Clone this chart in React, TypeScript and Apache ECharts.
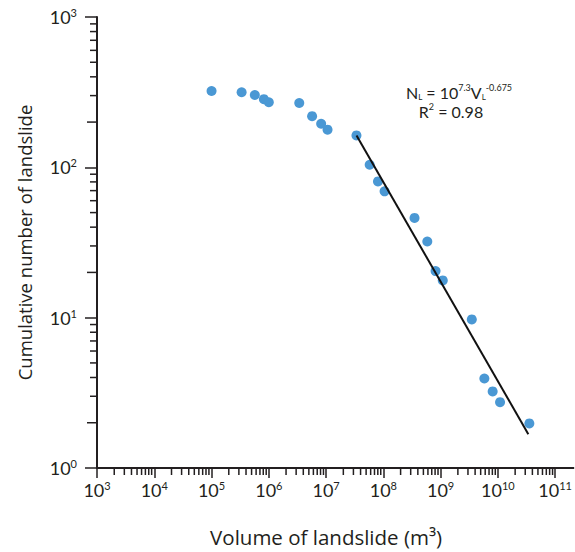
import React, { useEffect, useRef } from "react";
import * as echarts from "echarts";

// Landslide volume (m³) and cumulative number of landslides
const volumes = [
  1.0e5, 3.35e5, 5.7e5, 8.2e5, 1.0e6, 3.4e6, 5.7e6, 8.2e6, 1.06e7, 3.39e7,
  5.77e7, 8.05e7, 1.05e8, 3.5e8, 5.85e8, 8.15e8, 1.09e9, 3.5e9, 5.8e9, 8.1e9,
  1.09e10, 3.54e10,
];
const counts = [
  322, 316, 303, 284, 271, 268, 219, 195, 178, 163, 104, 80.6, 69.2, 46.1, 32.1,
  20.4, 17.7, 9.74, 3.94, 3.23, 2.74, 1.98,
];
// Power-law fit line end points
const fitVolumes = [3.4e7, 3.4e10];
const fitCounts = [163, 1.68];

const xMin = 1e3;
const xMax = 1e11;
const yMin = 1;
const yMax = 1e3;
const xDecades = [3, 4, 5, 6, 7, 8, 9, 10];
const yDecades = [0, 1, 2];
const minorMultipliers = [2, 3, 4, 5, 6, 7, 8, 9];

const FONT = "Lato";
const TITLE_FONT = "Open Sans";
const INK = "#231f20";

export default function App() {
  const ref = useRef<HTMLDivElement>(null);

  useEffect(() => {
    if (!ref.current) return;
    const chart = echarts.init(ref.current, undefined, { renderer: "svg" });

    const minorData: number[][] = [];
    xDecades.forEach((d) =>
      minorMultipliers.forEach((m) => minorData.push([m * Math.pow(10, d), yMin, 0, 7]))
    );
    yDecades.forEach((d) =>
      minorMultipliers.forEach((m) =>
        minorData.push([xMin, m * Math.pow(10, d), 1, m === 2 ? 10 : 7])
      )
    );
    minorData.push([xMax, yMin, 2, 19]);

    const labelFormatter = (v: number) =>
      `{b|10}{s|${Math.round(Math.log10(v))}}`;
    const labelRich = {
      b: { fontSize: 18, lineHeight: 20, fontFamily: FONT, color: INK },
      s: { fontSize: 11, lineHeight: 14, verticalAlign: "top", fontFamily: FONT, color: INK },
    };

    chart.setOption({
      animation: false,
      backgroundColor: "#ffffff",
      grid: { left: 97, right: 19, top: 17, bottom: 83, containLabel: false },
      xAxis: {
        type: "log",
        logBase: 10,
        min: xMin,
        max: xMax,
        splitNumber: 8,
        name: "Volume of landslide (m³)",
        nameLocation: "middle",
        nameGap: 58,
        nameTextStyle: { fontSize: 20.5, fontFamily: TITLE_FONT, color: INK },
        axisLine: { show: true, lineStyle: { color: INK, width: 2 } },
        axisTick: { show: true, inside: false, length: 10, lineStyle: { color: INK, width: 1.5 } },
        axisLabel: { margin: 12, formatter: labelFormatter, rich: labelRich },
        splitLine: { show: false },
        minorTick: { show: false },
      },
      yAxis: {
        type: "log",
        logBase: 10,
        min: yMin,
        max: yMax,
        splitNumber: 3,
        name: "Cumulative number of landslide",
        nameLocation: "middle",
        nameGap: 63,
        nameTextStyle: { fontSize: 18.5, fontFamily: TITLE_FONT, color: INK },
        axisLine: { show: true, lineStyle: { color: INK, width: 2 } },
        axisTick: { show: true, inside: false, length: 12, lineStyle: { color: INK, width: 1.5 } },
        axisLabel: { margin: 20, formatter: labelFormatter, rich: labelRich },
        splitLine: { show: false },
        minorTick: { show: false },
      },
      graphic: [
        {
          type: "text",
          x: 459,
          y: 92,
          style: {
            text: "{n|N}{sub|L}{n| = 10}{sup|7.3}{n|V}{sub|L}{sup|-0.675}",
            align: "center",
            verticalAlign: "middle",
            rich: {
              n: { fontSize: 16, lineHeight: 18, fontFamily: FONT, fill: INK },
              sub: { fontSize: 8, lineHeight: 10, verticalAlign: "bottom", fontFamily: FONT, fill: INK },
              sup: { fontSize: 9, lineHeight: 12, verticalAlign: "top", fontFamily: FONT, fill: INK },
            },
          },
        },
        {
          type: "text",
          x: 451,
          y: 111,
          style: {
            text: "{n|R}{sup|2}{n| = 0.98}",
            align: "center",
            verticalAlign: "middle",
            rich: {
              n: { fontSize: 16, lineHeight: 18, fontFamily: FONT, fill: INK },
              sup: { fontSize: 9, lineHeight: 12, verticalAlign: "top", fontFamily: FONT, fill: INK },
            },
          },
        },
      ],
      series: [
        {
          type: "custom",
          silent: true,
          clip: false,
          z: 1,
          encode: { x: 0, y: 1 },
          data: minorData,
          renderItem: (params: any, api: any) => {
            const kind = api.value(2);
            const len = api.value(3);
            const p = api.coord([api.value(0), api.value(1)]);
            let shape;
            if (kind === 0) shape = { x1: p[0], y1: p[1], x2: p[0], y2: p[1] + len };
            else if (kind === 1) shape = { x1: p[0] - len, y1: p[1], x2: p[0], y2: p[1] };
            else shape = { x1: p[0], y1: p[1], x2: p[0] + len, y2: p[1] };
            return {
              type: "line",
              shape,
              style: { stroke: INK, lineWidth: kind === 2 ? 2 : 1.5 },
            };
          },
        },
        {
          type: "scatter",
          data: volumes.map((v, i) => [v, counts[i]]),
          symbol: "circle",
          symbolSize: 10,
          itemStyle: { color: "#4a98d4", opacity: 1 },
          z: 3,
        },
        {
          type: "line",
          data: fitVolumes.map((v, i) => [v, fitCounts[i]]),
          showSymbol: false,
          symbol: "none",
          lineStyle: { color: "#111111", width: 2 },
          z: 4,
        },
      ],
    });

    return () => chart.dispose();
  }, []);

  return (
    <div
      ref={ref}
      style={{ position: "fixed", left: 0, top: 0, width: 575, height: 552, background: "#fff" }}
    />
  );
}
